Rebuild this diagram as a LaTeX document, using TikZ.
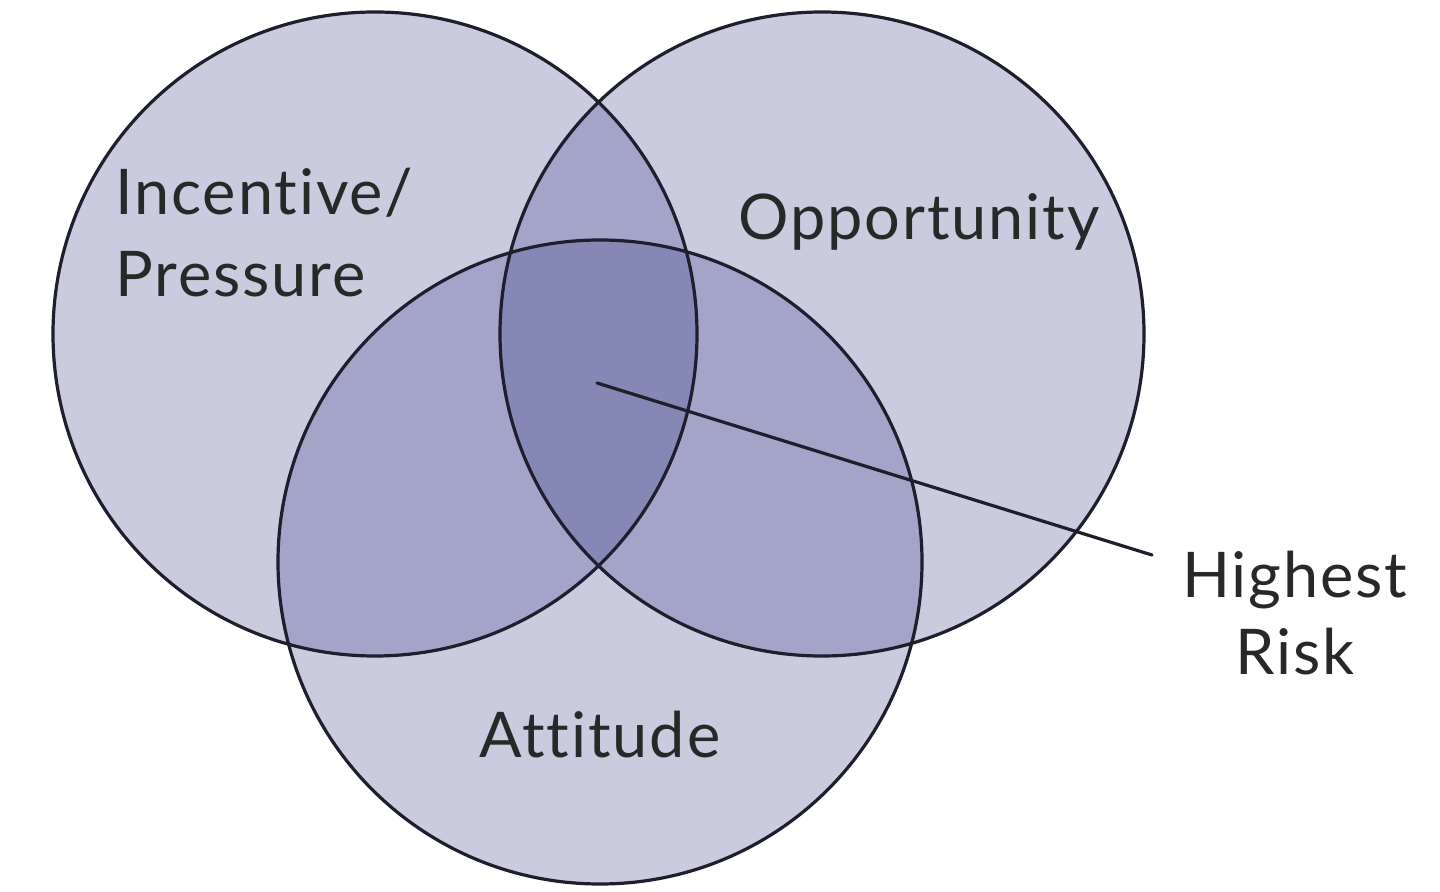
\documentclass[tikz,border=0pt]{standalone}
\usepackage{fontspec}
\setmainfont{Lato}[Ligatures={NoCommon,NoContextual},LetterSpace=3]
\definecolor{vfill}{RGB}{47,51,131}
\definecolor{vline}{RGB}{30,30,45}
\definecolor{vtext}{RGB}{40,40,40}
\begin{document}
\begin{tikzpicture}[x=0.5pt,y=-0.5pt,
  setfill/.style={fill=vfill,fill opacity=0.25},
  setline/.style={draw=vline,line width=1.6pt},
  lbl/.style={text=vtext,inner sep=0pt,anchor=base west,font=\fontsize{31.5}{38}\selectfont},
  lblc/.style={lbl,anchor=base}]
\useasboundingbox (0,0) rectangle (1440,892);
\fill[white] (0,0) rectangle (1440,892);
\coordinate (cI) at (375,334);
\coordinate (cO) at (822,334);
\coordinate (cA) at (600,562);
\fill[setfill] (cI) circle (322);
\fill[setfill] (cO) circle (322);
\fill[setfill] (cA) circle (322);
\draw[setline] (cI) circle (322);
\draw[setline] (cO) circle (322);
\draw[setline] (cA) circle (322);
\node[lbl] (inc1) at (115,215) {Incentive/};
\node[lbl] (inc2) at (115,297) {Pressure};
\node[lbl] (opp) at (738,240) {Opportunity};
\node[lblc] (att) at (600,757) {Attitude};
\node[lblc] (hr1) at (1295,597) {Highest};
\node[lblc] (hr2) at (1295,675) {Risk};
\coordinate (p) at (597,383);
\coordinate (q) at (1152,555);
\draw[setline,line cap=round] (p) -- (q);
\end{tikzpicture}
\end{document}
